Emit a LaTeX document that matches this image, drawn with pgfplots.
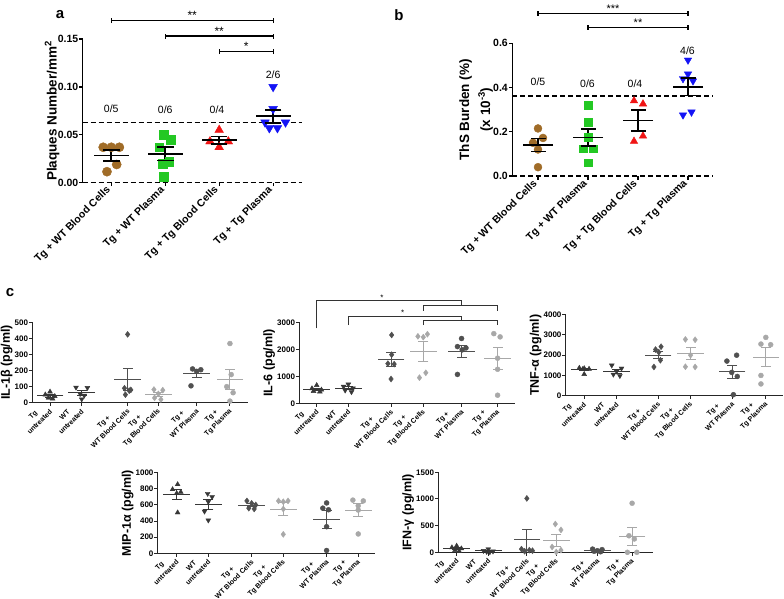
\documentclass[border=0pt]{standalone}
\usepackage{fontspec}
\setmainfont{Liberation Sans}
\usepackage{pgfplots}
\pgfplotsset{compat=1.18}
\usetikzlibrary{plotmarks}

\definecolor{cbrown}{RGB}{160,108,40}
\definecolor{cgreen}{RGB}{35,200,35}
\definecolor{cred}{RGB}{240,20,20}
\definecolor{cblue}{RGB}{20,20,245}
\definecolor{vdk}{RGB}{55,55,55}
\definecolor{dk}{RGB}{80,80,80}
\definecolor{lt}{RGB}{168,168,168}

% mean line + SEM bar: x, lo, mean, hi, colour
\newcommand{\msem}[5]{%
  \addplot[#5, line width=\lw] coordinates {(#1,#2) (#1,#4)};
  \addplot[#5, only marks, mark=-, mark size=\capw, mark options={line width=\lw}] coordinates {(#1,#2) (#1,#4)};
  \addplot[#5, only marks, mark=-, mark size=\meanw, mark options={line width=\lw}] coordinates {(#1,#3)};
}

\pgfplotsset{
  every axis/.append style={/pgf/number format/assume math mode=true},
  bigax/.style={
    scale only axis, anchor=south west, clip=false,
    axis lines=left, axis line style={-, line width=1.4pt, black},
    x axis line style={dash pattern=on 5pt off 3pt},
    tick align=outside, major tick length=3.5pt,
    tick style={black, line width=1.2pt},
    xtick={1,2,3,4},
    xticklabels={Tg + WT Blood Cells, Tg + WT Plasma, Tg + Tg Blood Cells, Tg + Tg Plasma},
    xticklabel style={rotate=45, anchor=east, font=\fontsize{10.5}{12}\selectfont\bfseries},
    yticklabel style={inner xsep=0.8pt, font=\fontsize{10.5}{12}\selectfont\bfseries},
    ylabel style={font=\fontsize{13.5}{16}\selectfont\bfseries},
    scaled y ticks=false, ymin=0,
  },
  smallax/.style={
    scale only axis, anchor=south west, clip=false,
    axis lines=left, axis line style={-, line width=1.1pt, black!85},
    tick align=outside, major tick length=3.5pt,
    tick style={black!85, line width=1pt},
    xticklabels={{Tg\\untreated},{WT\\untreated},{Tg +\\WT Blood Cells},{Tg +\\Tg Blood Cells},{Tg +\\WT Plasma},{Tg +\\Tg Plasma}},
    xticklabel shift=-1.5pt,
    xticklabel style={rotate=45, anchor=east, align=center, font=\fontsize{7}{9.5}\selectfont\bfseries},
    yticklabel style={inner xsep=0.6pt, font=\fontsize{8}{9}\selectfont\bfseries},
    /pgf/number format/1000 sep={},
    ylabel style={yshift=-2pt, font=\fontsize{12.5}{14}\selectfont\bfseries},
    ymin=0,
  },
  trid/.style={only marks, mark=triangle*, mark size=2.8pt, color=vdk},
  tridn/.style={only marks, mark=triangle*, mark size=2.8pt, color=vdk, mark options={rotate=180}},
  diad/.style={only marks, mark=diamond*, mark size=3pt, color=dk},
  dial/.style={only marks, mark=diamond*, mark size=3pt, color=lt},
  cird/.style={only marks, mark=*, mark size=2.5pt, color=dk},
  cirl/.style={only marks, mark=*, mark size=2.5pt, color=lt},
}

\begin{document}
\begin{tikzpicture}
\path[use as bounding box] (0pt,0pt) rectangle (784pt,-599pt);

\node[font=\fontsize{15}{15}\selectfont\bfseries] at (60pt,-15pt) {a};
\node[font=\fontsize{15}{15}\selectfont\bfseries] at (399pt,-15pt) {b};
\node[font=\fontsize{15}{15}\selectfont\bfseries] at (10pt,-293pt) {c};

% ---------------- panel a
\def\lw{1.8pt}\def\capw{8.3pt}\def\meanw{17.5pt}
\begin{axis}[bigax, at={(82.7pt,-182.7pt)}, width=219pt, height=143.7pt,
  xmin=0.47, xmax=4.53, ymax=0.15, ytick={0,0.05,0.10,0.15},
  yticklabel style={/pgf/number format/fixed, /pgf/number format/fixed zerofill, /pgf/number format/precision=2},
  ylabel={Plaques Number/mm\textsuperscript{2}}, ylabel style={yshift=-6pt}]
\addplot[black, dash pattern=on 5pt off 3pt, line width=1.4pt] coordinates {(0.47,0.063) (4.53,0.063)};
\addplot[only marks, mark=*, mark size=4.6pt, color=cbrown] coordinates {(0.85,0.037) (1,0.037) (1.15,0.037) (1.1,0.019) (0.92,0.0115)};
\addplot[only marks, mark=square*, mark size=4.3pt, color=cgreen] coordinates {(1.97,0.050) (2.1,0.045) (1.89,0.037) (2.07,0.022) (1.95,0.020) (1.97,0.006)};
\addplot[only marks, mark=triangle*, mark size=5pt, color=cred] coordinates {(3,0.055) (2.83,0.043) (3.17,0.043) (3,0.037)};
\addplot[only marks, mark=triangle*, mark size=5pt, color=cblue, mark options={rotate=180}] coordinates {(4,0.100) (4,0.077) (3.85,0.063) (4.23,0.063) (3.93,0.057) (4.08,0.057)};
\msem{1}{0.0229}{0.0283}{0.0338}{black}
\msem{2}{0.0231}{0.0300}{0.0369}{black}
\msem{3}{0.0407}{0.0445}{0.0483}{black}
\msem{4}{0.0627}{0.0695}{0.0763}{black}
\node[font=\fontsize{10.5}{12}\selectfont] at (axis cs:1,0.0777) {0/5};
\node[font=\fontsize{10.5}{12}\selectfont] at (axis cs:2,0.0759) {0/6};
\node[font=\fontsize{10.5}{12}\selectfont] at (axis cs:2.96,0.0759) {0/4};
\node[font=\fontsize{10.5}{12}\selectfont] at (axis cs:4,0.1124) {2/6};
\draw[line width=1.2pt] (axis cs:1,0.1691) -- (axis cs:4,0.1691);
\draw[line width=1.2pt] (axis cs:1,0.1665) -- (axis cs:1,0.1717);
\draw[line width=1.2pt] (axis cs:4,0.1665) -- (axis cs:4,0.1717);
\draw[line width=1.2pt] (axis cs:2,0.1531) -- (axis cs:4,0.1531);
\draw[line width=1.2pt] (axis cs:2,0.1505) -- (axis cs:2,0.1557);
\draw[line width=1.2pt] (axis cs:4,0.1505) -- (axis cs:4,0.1557);
\draw[line width=1.2pt] (axis cs:3,0.1368) -- (axis cs:4,0.1368);
\draw[line width=1.2pt] (axis cs:3,0.1342) -- (axis cs:3,0.1394);
\draw[line width=1.2pt] (axis cs:4,0.1342) -- (axis cs:4,0.1394);
\node[anchor=base, font=\fontsize{12}{12}\selectfont] at (axis cs:2.5,0.1701) {**};
\node[anchor=base, font=\fontsize{12}{12}\selectfont] at (axis cs:3,0.1541) {**};
\node[anchor=base, font=\fontsize{12}{12}\selectfont] at (axis cs:3.5,0.1378) {*};
\end{axis}

% ---------------- panel b
\def\lw{1.5pt}\def\capw{7.5pt}\def\meanw{15pt}
\begin{axis}[bigax, at={(512.3pt,-176pt)}, width=200.7pt, height=132.7pt,
  xmin=0.486, xmax=4.5, ymax=0.6, ytick={0,0.2,0.4,0.6},
  yticklabel style={/pgf/number format/fixed, /pgf/number format/fixed zerofill, /pgf/number format/precision=1},
  ylabel={ThS Burden (\%)\\(x 10\textsuperscript{-3})},
  ylabel style={align=center, yshift=-4pt, font=\fontsize{13.5}{21}\selectfont\bfseries}]
\addplot[black, dash pattern=on 5pt off 3pt, line width=1.4pt] coordinates {(0.486,0.362) (4.5,0.362)};
\addplot[only marks, mark=*, mark size=4pt, color=cbrown] coordinates {(1,0.215) (1.1,0.172) (0.9,0.150) (1,0.120) (1,0.040)};
\addplot[only marks, mark=square*, mark size=3.8pt, color=cgreen] coordinates {(2,0.320) (2,0.244) (2,0.175) (1.9,0.124) (2.1,0.124) (2,0.060)};
\addplot[only marks, mark=triangle*, mark size=4.3pt, color=cred] coordinates {(2.92,0.340) (3.1,0.326) (3.1,0.181) (2.92,0.157)};
\addplot[only marks, mark=triangle*, mark size=4.3pt, color=cblue, mark options={rotate=180}] coordinates {(4,0.524) (4,0.461) (3.9,0.440) (4.1,0.430) (4.07,0.289) (3.9,0.276)};
\msem{1}{0.110}{0.1394}{0.1687}{black}
\msem{2}{0.136}{0.1745}{0.213}{black}
\msem{3}{0.203}{0.251}{0.299}{black}
\msem{4}{0.363}{0.4033}{0.444}{black}
\node[font=\fontsize{10.5}{12}\selectfont] at (axis cs:1,0.4263) {0/5};
\node[font=\fontsize{10.5}{12}\selectfont] at (axis cs:1.99,0.416) {0/6};
\node[font=\fontsize{10.5}{12}\selectfont] at (axis cs:2.94,0.416) {0/4};
\node[font=\fontsize{10.5}{12}\selectfont] at (axis cs:3.99,0.5665) {4/6};
\draw[line width=1.1pt] (axis cs:1,0.7355) -- (axis cs:4,0.7355);
\draw[line width=1.1pt] (axis cs:1,0.7245) -- (axis cs:1,0.7465);
\draw[line width=1.1pt] (axis cs:4,0.7245) -- (axis cs:4,0.7465);
\draw[line width=1.1pt] (axis cs:2,0.672) -- (axis cs:4,0.672);
\draw[line width=1.1pt] (axis cs:2,0.661) -- (axis cs:2,0.683);
\draw[line width=1.1pt] (axis cs:4,0.661) -- (axis cs:4,0.683);
\node[anchor=base, font=\fontsize{11}{11}\selectfont] at (axis cs:2.5,0.740) {***};
\node[anchor=base, font=\fontsize{11}{11}\selectfont] at (axis cs:3,0.677) {**};
\end{axis}

% ---------------- panel c
\def\lw{1pt}\def\capw{5pt}\def\meanw{13.3pt}
% IL-1b
\begin{axis}[smallax, at={(32.3pt,-402.7pt)}, width=215.7pt, height=80.4pt,
  xmin=0.44, xmax=7.25, ymax=500, ytick={0,100,200,300,400,500},
  xtick={1,2,3.45,4.42,5.63,6.68}, ylabel={IL-1β (pg/ml)}]
\addplot[trid] coordinates {(1,68) (0.85,50) (1.15,40) (0.95,30) (1.08,25)};
\addplot[tridn] coordinates {(1.82,95) (2.18,93) (1.95,55) (2.08,45) (2,22)};
\addplot[diad] coordinates {(3.45,425) (3.35,90) (3.55,80) (3.5,75) (3.38,50)};
\addplot[dial] coordinates {(4.28,82) (4.56,78) (4.42,55) (4.3,30) (4.5,20)};
\addplot[cird] coordinates {(5.5,210) (5.76,205) (5.63,195) (5.45,105)};
\addplot[cirl] coordinates {(6.68,368) (6.72,175) (6.58,100) (6.78,62) (6.68,10)};
\msem{1}{34.9}{42.6}{50.3}{vdk}
\msem{2}{47.9}{62}{76.1}{vdk}
\msem{3.45}{73.4}{144}{214.6}{dk}
\msem{4.42}{40.6}{53}{65.4}{lt}
\msem{5.63}{154}{178.75}{203.5}{dk}
\msem{6.68}{81}{143}{205}{lt}
\end{axis}

% IL-6
\begin{axis}[smallax, at={(299.3pt,-403.3pt)}, width=215.7pt, height=81pt,
  xmin=0.45, xmax=7.27, ymax=3000, ytick={0,1000,2000,3000},
  xtick={1,2,3.35,4.37,5.58,6.72}, ylabel={IL-6 (pg/ml)}]
\addplot[trid] coordinates {(1,667) (0.85,550) (1.15,500) (0.9,450) (1.1,430)};
\addplot[tridn] coordinates {(2,703) (1.85,620) (2.15,560) (1.9,480) (2.1,420)};
\addplot[diad] coordinates {(3.37,2530) (3.37,1800) (3.25,1470) (3.45,1450) (3.35,900)};
\addplot[dial] coordinates {(4.2,2480) (4.5,2560) (4.37,2450) (4.45,1130) (4.25,950)};
\addplot[cird] coordinates {(5.58,2400) (5.45,2100) (5.72,2050) (5.6,1980) (5.45,1070)};
\addplot[cirl] coordinates {(6.6,2580) (6.8,2460) (6.72,1670) (6.72,1260) (6.72,300)};
\msem{1}{477}{519.4}{562}{vdk}
\msem{2}{506.6}{556.6}{606.6}{vdk}
\msem{3.35}{1363}{1630}{1897}{dk}
\msem{4.37}{1556}{1914}{2272}{lt}
\msem{5.58}{1696}{1920}{2144}{dk}
\msem{6.72}{1236}{1654}{2072}{lt}
\draw[black!80, line width=0.8pt] (axis cs:1,2778) -- (axis cs:1,3800) -- (axis cs:5.58,3800) -- (axis cs:5.58,3641);
\draw[black!80, line width=0.8pt] (axis cs:4.37,3430) -- (axis cs:4.37,3641) -- (axis cs:6.72,3641) -- (axis cs:6.72,3430);
\draw[black!80, line width=0.8pt] (axis cs:2,2900) -- (axis cs:2,3233) -- (axis cs:5.58,3233) -- (axis cs:5.58,3052);
\draw[black!80, line width=0.8pt] (axis cs:4.37,2900) -- (axis cs:4.37,3052) -- (axis cs:6.72,3052) -- (axis cs:6.72,2900);
\node[anchor=base, font=\fontsize{8}{8}\selectfont] at (axis cs:3.06,3810) {*};
\node[anchor=base, font=\fontsize{8}{8}\selectfont] at (axis cs:3.72,3243) {*};
\end{axis}

% TNF-a
\begin{axis}[smallax, at={(565.7pt,-395.7pt)}, width=217.3pt, height=81pt,
  xmin=0.43, xmax=7.13, ymax=4000, ytick={0,1000,2000,3000,4000},
  xtick={1,2,3.28,4.28,5.56,6.6}, ylabel={TNF-α (pg/ml)}]
\addplot[trid] coordinates {(0.85,1370) (1,1350) (1.15,1320) (0.95,1300) (1,1060)};
\addplot[tridn] coordinates {(1.85,1500) (2.15,1350) (2,1200) (1.9,1050) (2.1,980)};
\addplot[diad] coordinates {(3.37,2420) (3.2,2280) (3.3,2150) (3.35,1750) (3.15,1420)};
\addplot[dial] coordinates {(4.12,2780) (4.42,2760) (4.28,2000) (4.12,1430) (4.42,1420)};
\addplot[cird] coordinates {(5.7,2000) (5.4,1710) (5.55,1150) (5.72,950) (5.6,50)};
\addplot[cirl] coordinates {(6.6,2880) (6.45,2550) (6.75,2520) (6.45,1000) (6.45,580)};
\msem{1}{1224}{1280}{1336}{vdk}
\msem{2}{1121}{1216}{1311}{vdk}
\msem{3.28}{1820}{2004}{2188}{dk}
\msem{4.28}{1777}{2078}{2379}{lt}
\msem{5.56}{834}{1172}{1510}{dk}
\msem{6.6}{1441}{1906}{2371}{lt}
\end{axis}

% MIP-1a
\begin{axis}[smallax, at={(157.7pt,-553.3pt)}, width=217.3pt, height=80.6pt,
  xmin=0.4, xmax=7.27, ymax=1000, ytick={0,200,400,600,800,1000},
  xtick={1,2,3.37,4.37,5.74,6.74}, ylabel={MIP-1α (pg/ml)}]
\addplot[trid] coordinates {(1.03,855) (0.87,793) (1.13,760) (1,744) (1.03,505)};
\addplot[tridn] coordinates {(1.98,740) (2.12,700) (2,640) (1.88,520) (2,410)};
\addplot[diad] coordinates {(3.22,650) (3.37,620) (3.5,600) (3.28,560) (3.45,550)};
\addplot[dial] coordinates {(4.22,650) (4.52,650) (4.37,640) (4.37,550) (4.37,235)};
\addplot[cird] coordinates {(5.74,625) (5.62,560) (5.8,540) (5.74,330) (5.74,35)};
\addplot[cirl] coordinates {(6.57,660) (6.9,650) (6.74,590) (6.74,537) (6.74,240)};
\msem{1}{672}{731.4}{791}{vdk}
\msem{2}{541}{602}{663}{vdk}
\msem{3.37}{577}{596}{615}{dk}
\msem{4.37}{465}{545}{625}{lt}
\msem{5.74}{310}{418}{526}{dk}
\msem{6.74}{458}{535}{612}{lt}
\end{axis}

% IFN-g
\begin{axis}[smallax, at={(438.3pt,-552.3pt)}, width=215pt, height=80pt,
  xmin=0.42, xmax=7.22, ymax=1500, ytick={0,500,1000,1500},
  xtick={1,2,3.22,4.15,5.45,6.55}, ylabel={IFN-γ (pg/ml)}]
\addplot[trid] coordinates {(1,120) (0.85,90) (1.15,70) (0.95,40) (1.08,20)};
\addplot[tridn] coordinates {(2,60) (1.85,30) (2.15,20) (1.95,10) (2.05,5)};
\addplot[diad] coordinates {(3.22,1010) (3.05,60) (3.3,40) (3.4,30) (3.15,20)};
\addplot[dial] coordinates {(4.12,530) (4.3,420) (4.02,100) (4.3,40) (4.15,5)};
\addplot[cird] coordinates {(5.3,60) (5.6,50) (5.45,30) (5.35,20) (5.55,10)};
\addplot[cirl] coordinates {(6.55,920) (6.45,310) (6.62,250) (6.4,0) (6.7,0)};
\msem{1}{50}{68}{86}{vdk}
\msem{2}{15}{25}{35}{vdk}
\msem{3.22}{37}{232}{427}{dk}
\msem{4.15}{112}{219}{326}{lt}
\msem{5.45}{25}{34}{43}{dk}
\msem{6.55}{128}{296}{464}{lt}
\end{axis}
\end{tikzpicture}
\end{document}
